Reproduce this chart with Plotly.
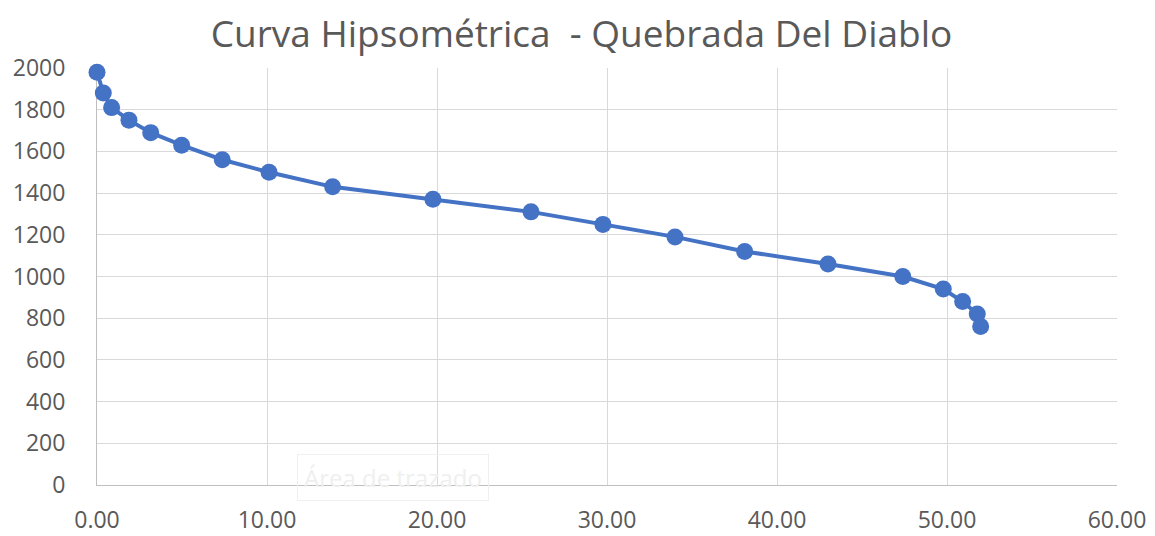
import plotly.graph_objects as go

area_pct = [0.0, 0.37, 0.86, 1.88, 3.16, 4.98, 7.37, 10.12, 13.86, 19.76,
            25.53, 29.76, 34.0, 38.1, 43.0, 47.4, 49.78, 50.92, 51.78, 51.98]
elevation = [1980, 1880, 1810, 1750, 1690, 1630, 1560, 1500, 1430, 1370,
             1310, 1250, 1190, 1120, 1060, 1000, 940, 880, 820, 760]

title_text = "Curva Hipsométrica  - Quebrada Del Diablo"
x_ticks = [0, 10, 20, 30, 40, 50, 60]
y_ticks = [0, 200, 400, 600, 800, 1000, 1200, 1400, 1600, 1800, 2000]

FONT = "Open Sans"
GREY = "#595959"

fig = go.Figure()
fig.add_trace(go.Scatter(
    x=area_pct, y=elevation, mode="lines+markers",
    line=dict(color="#4472C4", width=4),
    marker=dict(color="#4472C4", size=17),
    cliponaxis=False,
    showlegend=False,
))

fig.add_annotation(
    x=17.4, y=34, xref="x", yref="y", text="Área de trazado",
    showarrow=False, font=dict(family=FONT, size=24, color="#efefef"),
    bordercolor="#f0f0f0", borderwidth=1, borderpad=6, bgcolor="rgba(255,255,255,0)",
)

fig.update_layout(
    width=1147, height=528,
    margin=dict(l=89, r=38, t=60, b=51),
    paper_bgcolor="white", plot_bgcolor="white",
    title=dict(text=title_text, x=0.5, xanchor="center", y=0.95, yanchor="middle",
               font=dict(family=FONT, size=37, color=GREY)),
    xaxis=dict(range=[0, 60], tickvals=x_ticks, tickformat=".2f", automargin=False,
               showgrid=True, gridcolor="#d9d9d9", gridwidth=1, layer="below traces",
               zeroline=False, showline=True, linecolor="#bfbfbf", linewidth=1,
               ticks="", tickfont=dict(family=FONT, size=23, color=GREY),
               ticklabelstandoff=14),
    yaxis=dict(range=[0, 2000], tickvals=y_ticks, automargin=False,
               showgrid=True, gridcolor="#d9d9d9", gridwidth=1, layer="below traces",
               zeroline=False, showline=True, linecolor="#bfbfbf", linewidth=1,
               ticks="", tickfont=dict(family=FONT, size=23, color=GREY),
               ticklabelstandoff=26),
)

fig.write_html("out.html")
